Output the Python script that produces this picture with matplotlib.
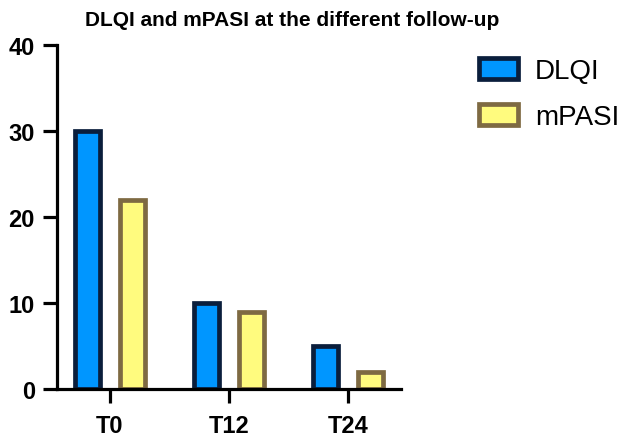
import matplotlib
matplotlib.use("Agg")
import matplotlib.pyplot as plt
import numpy as np

categories = ["T0", "T12", "T24"]
dlqi = [30, 10, 5]
mpasi = [22, 9, 2]
series_names = ["DLQI", "mPASI"]
yticks = [0, 10, 20, 30, 40]

plt.rcParams['font.family'] = ['Liberation Sans', 'DejaVu Sans']

fig = plt.figure(figsize=(6.24, 4.39), dpi=100)
ax = fig.add_axes([57/624, 1-390/439, (401-57)/624, (390-46)/439])

x = np.arange(len(categories))
w = 0.204
off = 0.189
lw = 3.4
ax.bar(x - off, dlqi, width=w, color='#0096FF', edgecolor='#0A1E3C', linewidth=lw, label=series_names[0])
ax.bar(x + off, mpasi, width=w, color='#FFFB7E', edgecolor='#7E6A42', linewidth=lw, label=series_names[1])

ax.set_xlim(-0.445, 2.445)
ax.set_ylim(0, 40)
ax.set_yticks(yticks)
ax.set_xticks(x)
ax.set_xticklabels(categories)
for s in ['top', 'right']:
    ax.spines[s].set_visible(False)
for s in ['left', 'bottom']:
    ax.spines[s].set_linewidth(2.3)
    ax.spines[s].set_capstyle('projecting')
ax.tick_params(axis='y', length=10, width=2.3, labelsize=17, pad=6)
ax.tick_params(axis='x', length=10, width=2.3, labelsize=17, pad=8)
for lab in ax.get_xticklabels() + ax.get_yticklabels():
    lab.set_fontweight('bold')

fig.text(292/624, 1-21/439, "DLQI and mPASI at the different follow-up", ha='center', va='center',
         fontsize=15, fontweight='bold')

fig.legend(loc='upper left', bbox_to_anchor=(454/624, 1-34/439), frameon=False, fontsize=20,
           handlelength=1.4, handleheight=0.78, labelspacing=0.72, handletextpad=0.62)

fig.savefig("out.png", dpi=100)
